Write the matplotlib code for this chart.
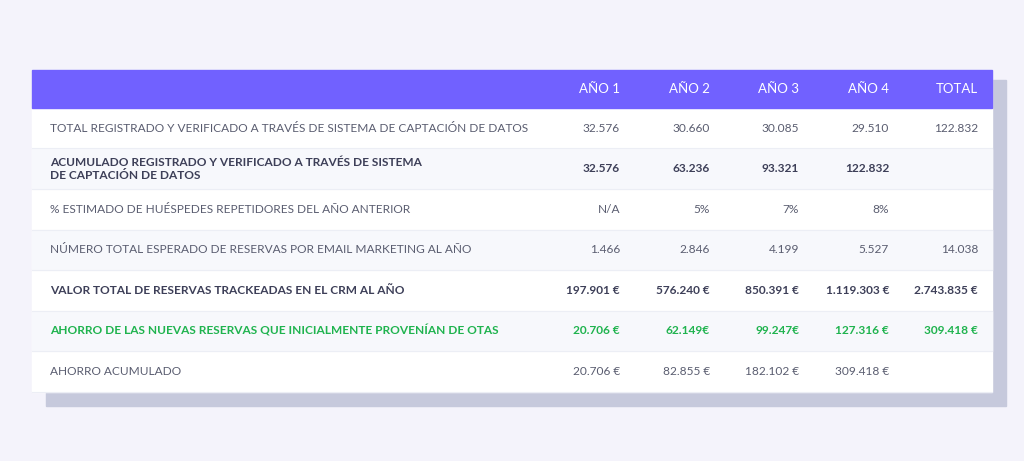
import matplotlib
matplotlib.use("Agg")
import matplotlib.pyplot as plt
from matplotlib.patches import Rectangle

headers = ["AÑO 1", "AÑO 2", "AÑO 3", "AÑO 4", "TOTAL"]
row_labels = [
    "TOTAL REGISTRADO Y VERIFICADO A TRAVÉS DE SISTEMA DE CAPTACIÓN DE DATOS",
    "ACUMULADO REGISTRADO Y VERIFICADO A TRAVÉS DE SISTEMA\nDE CAPTACIÓN DE DATOS",
    "% ESTIMADO DE HUÉSPEDES REPETIDORES DEL AÑO ANTERIOR",
    "NÚMERO TOTAL ESPERADO DE RESERVAS POR EMAIL MARKETING AL AÑO",
    "VALOR TOTAL DE RESERVAS TRACKEADAS EN EL CRM AL AÑO",
    "AHORRO DE LAS NUEVAS RESERVAS QUE INICIALMENTE PROVENÍAN DE OTAS",
    "AHORRO ACUMULADO",
]
values = [
    ["32.576", "30.660", "30.085", "29.510", "122.832"],
    ["32.576", "63.236", "93.321", "122.832", ""],
    ["N/A", "5%", "7%", "8%", ""],
    ["1.466", "2.846", "4.199", "5.527", "14.038"],
    ["197.901 €", "576.240 €", "850.391 €", "1.119.303 €", "2.743.835 €"],
    ["20.706 €", "62.149€", "99.247€", "127.316 €", "309.418 €"],
    ["20.706 €", "82.855 €", "182.102 €", "309.418 €", ""],
]
styles = ["normal", "bold", "normal", "normal", "bold", "green", "normal"]

W, H = 1024, 461
fig = plt.figure(figsize=(W/100, H/100), dpi=100)
fig.patch.set_facecolor("#f4f3fb")
ax = fig.add_axes([0, 0, 1, 1])
ax.set_xlim(0, W); ax.set_ylim(H, 0); ax.axis("off")

font = "Lato"
ax.add_patch(Rectangle((46, 80), 960, 326, color="#c6c9dc", zorder=1))
ax.add_patch(Rectangle((32, 70), 960, 322, color="white", zorder=2))
ax.add_patch(Rectangle((32, 70), 960, 38, color="#7161ff", zorder=3))

col_x = [620, 710, 799, 889, 978]
for x, h in zip(col_x, headers):
    ax.text(x, 89, h, ha="right", va="center", color="white", fontsize=9.5,
            family=font, zorder=4)

top = 108
rh = 40.5
for i, (lab, vals, st) in enumerate(zip(row_labels, values, styles)):
    y0 = top + i * rh
    if i % 2 == 1:
        ax.add_patch(Rectangle((32, y0), 960, rh, color="#f7f8fc", zorder=2.5))
    ax.plot([32, 992], [y0 + rh, y0 + rh], color="#eceef5", lw=0.8, zorder=3)
    if st == "green":
        c, w = "#1fb34e", "bold"
    elif st == "bold":
        c, w = "#3d3f58", "bold"
    else:
        c, w = "#5a5d70", "normal"
    yc = y0 + rh / 2
    ax.text(50, yc, lab, ha="left", va="center", color=c, fontweight=w,
            fontsize=8.6, family=font, zorder=4, linespacing=1.2)
    for x, v in zip(col_x, vals):
        ax.text(x, yc, v, ha="right", va="center", color=c, fontweight=w,
                fontsize=8.6, family=font, zorder=4)

fig.savefig("out.png", dpi=100, facecolor=fig.get_facecolor())
